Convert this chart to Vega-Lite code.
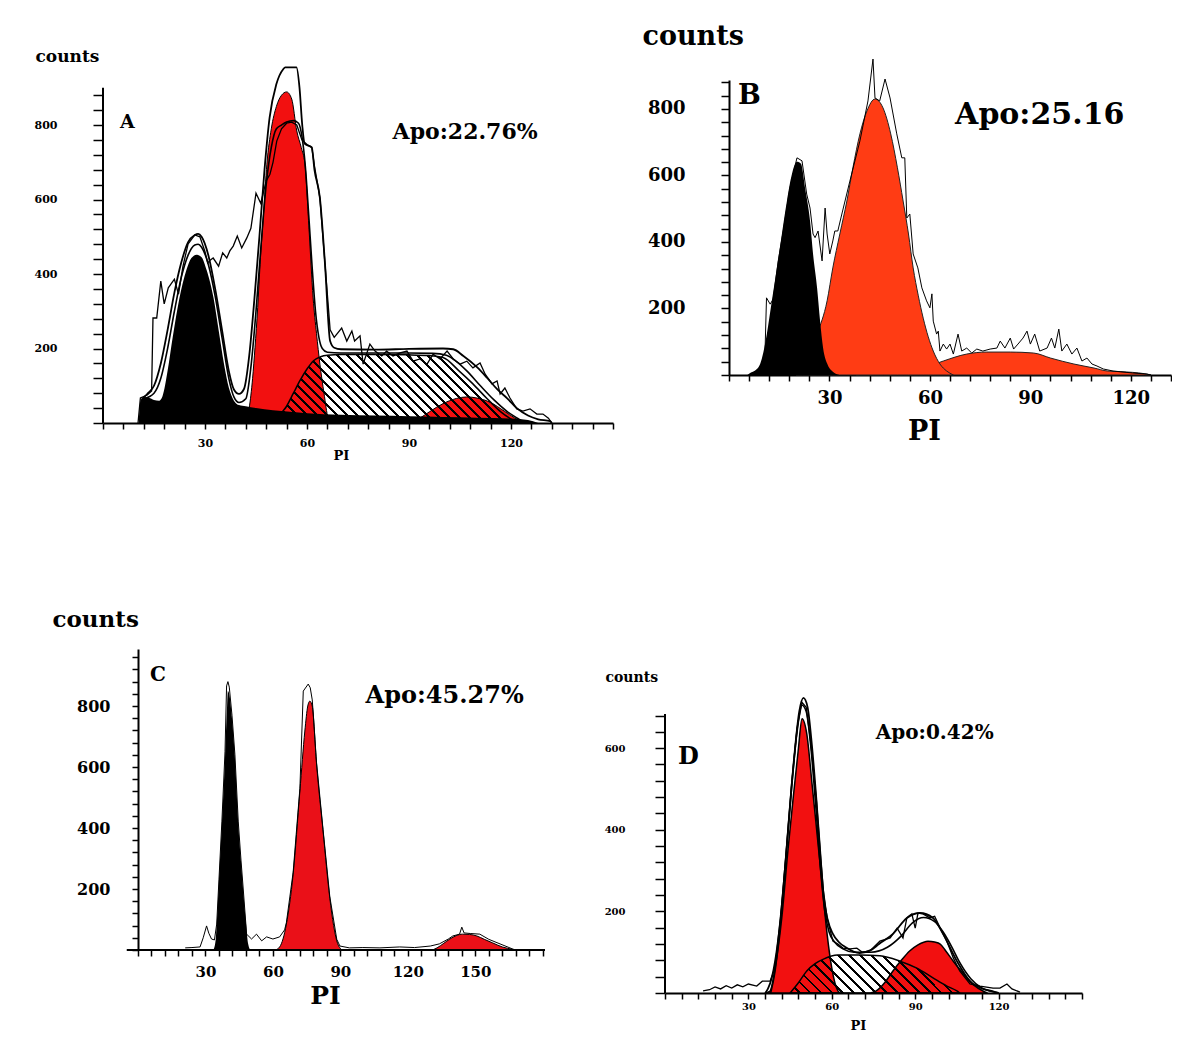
{
"$schema": "https://vega.github.io/schema/vega-lite/v6.json",
"padding": {"left": 34, "top": 22, "right": 0, "bottom": 0},
"spacing": 146,
"config": {
  "font": "DejaVu Serif",
  "view": {"stroke": null},
  "axis": {"grid": false, "labelFont": "DejaVu Serif", "labelFontWeight": "bold", "labelColor": "#000", "titleFont": "DejaVu Serif", "titleFontWeight": "bold", "titleColor": "#000", "domainColor": "#000", "domainWidth": 2, "tickColor": "#000", "tickWidth": 1.5, "labelOverlap": false, "labelFlush": false},
  "text": {"font": "DejaVu Serif", "fontWeight": "bold", "color": "#000"}
},
"vconcat": [
{
 "hconcat": [
 {
  "width": 510, "height": 343,
  "layer": [
  {
   "encoding": {
    "x": {"field": "x", "type": "quantitative", "scale": {"domain": [0, 150], "nice": false, "zero": false},
      "axis": {"values": [0,6,12,18,24,30,36,42,48,54,60,66,72,78,84,90,96,102,108,114,120,126,132,138,144,150], "labelExpr": "datum.value % 30 === 0 && datum.value > 0 && datum.value < 150 ? datum.label : ''", "labelFontSize": 11, "labelPadding": 8, "tickSize": 6, "title": "PI", "titleFontSize": 13, "titleX": 238, "titleY": 36, "titleAlign": "center", "titleBaseline": "alphabetic"}},
    "y": {"field": "y", "type": "quantitative", "scale": {"domain": [0, 921], "nice": false},
      "axis": {"values": [0,40,80,120,160,200,240,280,320,360,400,440,480,520,560,600,640,680,720,760,800,840,880], "labelExpr": "datum.value % 200 === 0 && datum.value > 0 ? datum.label : ''", "labelFontSize": 11, "labelPadding": 36, "tickSize": 10, "domain": false, "title": "counts", "titleFontSize": 17, "titleAngle": 0, "titleAlign": "left", "titleBaseline": "alphabetic", "titleX": -68, "titleY": -19}}
   },
   "layer": [
    {"data": {"values": [{"x":42,"y":0},{"x":43,"y":40},{"x":44,"y":120},{"x":44.7,"y":202},{"x":45.5,"y":310},{"x":46.2,"y":426},{"x":47.2,"y":560},{"x":48.2,"y":695},{"x":49.5,"y":790},{"x":51,"y":850},{"x":52.5,"y":880},{"x":54,"y":889},{"x":55.5,"y":870},{"x":57,"y":784},{"x":58.3,"y":740},{"x":59.4,"y":695},{"x":60.6,"y":520},{"x":61.8,"y":336},{"x":62.8,"y":240},{"x":63.8,"y":158},{"x":65,"y":80},{"x":66.2,"y":13},{"x":67,"y":0}]},
     "mark": {"type": "area", "interpolate": "monotone", "fill": "#f21010", "stroke": "#000", "strokeWidth": 1, "opacity": 1}},
    {"data": {"values": [{"x":90,"y":0},{"x":93,"y":12},{"x":96,"y":30},{"x":100,"y":52},{"x":104,"y":66},{"x":107,"y":70},{"x":110,"y":67},{"x":114,"y":55},{"x":118,"y":32},{"x":121,"y":14},{"x":124,"y":0}]},
     "mark": {"type": "area", "interpolate": "monotone", "fill": "#f21010", "stroke": "#000", "strokeWidth": 1, "opacity": 1}},
    {"data": {"values": [{"x":51,"y":0},{"x":52,"y":20},{"x":54,"y":45},{"x":56,"y":80},{"x":58,"y":115},{"x":60,"y":145},{"x":62,"y":168},{"x":64,"y":178},{"x":66,"y":182},{"x":70,"y":184},{"x":80,"y":184},{"x":90,"y":183},{"x":96,"y":181},{"x":100,"y":176},{"x":104.7,"y":140},{"x":108.8,"y":105},{"x":113,"y":65},{"x":117,"y":30},{"x":121,"y":5},{"x":122,"y":0}]},
     "mark": {"type": "area", "interpolate": "monotone", "stroke": "#000", "strokeWidth": 1.5, "opacity": 1,
       "fill": {"gradient": "linear", "x1": 0, "y1": 1, "x2": 1.188, "y2": 0.6625, "stops": [
        {"offset":0,"color":"rgba(0,0,0,0)"},{"offset":0.0242,"color":"rgba(0,0,0,0)"},{"offset":0.0242,"color":"#000"},{"offset":0.0323,"color":"#000"},
        {"offset":0.0323,"color":"rgba(0,0,0,0)"},{"offset":0.0565,"color":"rgba(0,0,0,0)"},{"offset":0.0565,"color":"#000"},{"offset":0.0645,"color":"#000"},
        {"offset":0.0645,"color":"rgba(0,0,0,0)"},{"offset":0.0887,"color":"rgba(0,0,0,0)"},{"offset":0.0887,"color":"#000"},{"offset":0.0968,"color":"#000"},
        {"offset":0.0968,"color":"rgba(0,0,0,0)"},{"offset":0.1210,"color":"rgba(0,0,0,0)"},{"offset":0.1210,"color":"#000"},{"offset":0.1290,"color":"#000"},
        {"offset":0.1290,"color":"rgba(0,0,0,0)"},{"offset":0.1532,"color":"rgba(0,0,0,0)"},{"offset":0.1532,"color":"#000"},{"offset":0.1613,"color":"#000"},
        {"offset":0.1613,"color":"rgba(0,0,0,0)"},{"offset":0.1855,"color":"rgba(0,0,0,0)"},{"offset":0.1855,"color":"#000"},{"offset":0.1935,"color":"#000"},
        {"offset":0.1935,"color":"rgba(0,0,0,0)"},{"offset":0.2177,"color":"rgba(0,0,0,0)"},{"offset":0.2177,"color":"#000"},{"offset":0.2258,"color":"#000"},
        {"offset":0.2258,"color":"rgba(0,0,0,0)"},{"offset":0.2500,"color":"rgba(0,0,0,0)"},{"offset":0.2500,"color":"#000"},{"offset":0.2581,"color":"#000"},
        {"offset":0.2581,"color":"rgba(0,0,0,0)"},{"offset":0.2823,"color":"rgba(0,0,0,0)"},{"offset":0.2823,"color":"#000"},{"offset":0.2903,"color":"#000"},
        {"offset":0.2903,"color":"rgba(0,0,0,0)"},{"offset":0.3145,"color":"rgba(0,0,0,0)"},{"offset":0.3145,"color":"#000"},{"offset":0.3226,"color":"#000"},
        {"offset":0.3226,"color":"rgba(0,0,0,0)"},{"offset":0.3468,"color":"rgba(0,0,0,0)"},{"offset":0.3468,"color":"#000"},{"offset":0.3548,"color":"#000"},
        {"offset":0.3548,"color":"rgba(0,0,0,0)"},{"offset":0.3790,"color":"rgba(0,0,0,0)"},{"offset":0.3790,"color":"#000"},{"offset":0.3871,"color":"#000"},
        {"offset":0.3871,"color":"rgba(0,0,0,0)"},{"offset":0.4113,"color":"rgba(0,0,0,0)"},{"offset":0.4113,"color":"#000"},{"offset":0.4194,"color":"#000"},
        {"offset":0.4194,"color":"rgba(0,0,0,0)"},{"offset":0.4435,"color":"rgba(0,0,0,0)"},{"offset":0.4435,"color":"#000"},{"offset":0.4516,"color":"#000"},
        {"offset":0.4516,"color":"rgba(0,0,0,0)"},{"offset":0.4758,"color":"rgba(0,0,0,0)"},{"offset":0.4758,"color":"#000"},{"offset":0.4839,"color":"#000"},
        {"offset":0.4839,"color":"rgba(0,0,0,0)"},{"offset":0.5081,"color":"rgba(0,0,0,0)"},{"offset":0.5081,"color":"#000"},{"offset":0.5161,"color":"#000"},
        {"offset":0.5161,"color":"rgba(0,0,0,0)"},{"offset":0.5403,"color":"rgba(0,0,0,0)"},{"offset":0.5403,"color":"#000"},{"offset":0.5484,"color":"#000"},
        {"offset":0.5484,"color":"rgba(0,0,0,0)"},{"offset":0.5726,"color":"rgba(0,0,0,0)"},{"offset":0.5726,"color":"#000"},{"offset":0.5806,"color":"#000"},
        {"offset":0.5806,"color":"rgba(0,0,0,0)"},{"offset":0.6048,"color":"rgba(0,0,0,0)"},{"offset":0.6048,"color":"#000"},{"offset":0.6129,"color":"#000"},
        {"offset":0.6129,"color":"rgba(0,0,0,0)"},{"offset":0.6371,"color":"rgba(0,0,0,0)"},{"offset":0.6371,"color":"#000"},{"offset":0.6452,"color":"#000"},
        {"offset":0.6452,"color":"rgba(0,0,0,0)"},{"offset":0.6694,"color":"rgba(0,0,0,0)"},{"offset":0.6694,"color":"#000"},{"offset":0.6774,"color":"#000"},
        {"offset":0.6774,"color":"rgba(0,0,0,0)"},{"offset":0.7016,"color":"rgba(0,0,0,0)"},{"offset":0.7016,"color":"#000"},{"offset":0.7097,"color":"#000"},
        {"offset":0.7097,"color":"rgba(0,0,0,0)"},{"offset":0.7339,"color":"rgba(0,0,0,0)"},{"offset":0.7339,"color":"#000"},{"offset":0.7419,"color":"#000"},
        {"offset":0.7419,"color":"rgba(0,0,0,0)"},{"offset":0.7661,"color":"rgba(0,0,0,0)"},{"offset":0.7661,"color":"#000"},{"offset":0.7742,"color":"#000"},
        {"offset":0.7742,"color":"rgba(0,0,0,0)"},{"offset":0.7984,"color":"rgba(0,0,0,0)"},{"offset":0.7984,"color":"#000"},{"offset":0.8065,"color":"#000"},
        {"offset":0.8065,"color":"rgba(0,0,0,0)"},{"offset":0.8306,"color":"rgba(0,0,0,0)"},{"offset":0.8306,"color":"#000"},{"offset":0.8387,"color":"#000"},
        {"offset":0.8387,"color":"rgba(0,0,0,0)"},{"offset":0.8629,"color":"rgba(0,0,0,0)"},{"offset":0.8629,"color":"#000"},{"offset":0.8710,"color":"#000"},
        {"offset":0.8710,"color":"rgba(0,0,0,0)"},{"offset":0.8952,"color":"rgba(0,0,0,0)"},{"offset":0.8952,"color":"#000"},{"offset":0.9032,"color":"#000"},
        {"offset":0.9032,"color":"rgba(0,0,0,0)"},{"offset":0.9274,"color":"rgba(0,0,0,0)"},{"offset":0.9274,"color":"#000"},{"offset":0.9355,"color":"#000"},
        {"offset":0.9355,"color":"rgba(0,0,0,0)"},{"offset":0.9597,"color":"rgba(0,0,0,0)"},{"offset":0.9597,"color":"#000"},{"offset":0.9677,"color":"#000"},
        {"offset":0.9677,"color":"rgba(0,0,0,0)"},{"offset":0.9919,"color":"rgba(0,0,0,0)"},{"offset":0.9919,"color":"#000"},{"offset":1,"color":"#000"}]}}},
    {"data": {"values": [{"x":10.5,"y":0},{"x":11,"y":60},{"x":12,"y":70},{"x":13.5,"y":68},{"x":15,"y":62},{"x":16.5,"y":60},{"x":17.5,"y":72},{"x":19,"y":140},{"x":20.5,"y":230},{"x":22.5,"y":336},{"x":24.5,"y":410},{"x":26,"y":443},{"x":27.6,"y":452},{"x":29,"y":445},{"x":30.5,"y":410},{"x":32.5,"y":336},{"x":34,"y":250},{"x":35.6,"y":158},{"x":37,"y":95},{"x":38.5,"y":60},{"x":40,"y":48},{"x":42,"y":45},{"x":45,"y":40},{"x":50,"y":34},{"x":55,"y":30},{"x":60,"y":26},{"x":70,"y":22},{"x":80,"y":20},{"x":90,"y":18},{"x":100,"y":16},{"x":110,"y":14},{"x":120,"y":12},{"x":125,"y":8},{"x":128,"y":0}]},
     "mark": {"type": "area", "interpolate": "monotone", "fill": "#000", "opacity": 1}},
    {"data": {"values": [{"x":11,"y":0},{"x":11.5,"y":60},{"x":13,"y":78},{"x":15,"y":100},{"x":17,"y":160},{"x":19,"y":250},{"x":21,"y":350},{"x":23,"y":430},{"x":25,"y":485},{"x":27,"y":505},{"x":28,"y":508},{"x":29,"y":500},{"x":31,"y":450},{"x":33,"y":360},{"x":35,"y":250},{"x":37,"y":140},{"x":38.5,"y":90},{"x":40,"y":78},{"x":41.5,"y":92},{"x":43,"y":180},{"x":44.5,"y":330},{"x":46,"y":500},{"x":47.5,"y":680},{"x":49,"y":820},{"x":51,"y":910},{"x":53,"y":950},{"x":53.6,"y":955},{"x":56.9,"y":955},{"x":57.8,"y":900},{"x":58.6,"y":800},{"x":59.3,"y":750},{"x":61.4,"y":740},{"x":62.2,"y":680},{"x":63.8,"y":604},{"x":65.3,"y":426},{"x":66.8,"y":220},{"x":68,"y":202},{"x":70,"y":198},{"x":80,"y":197},{"x":90,"y":199},{"x":100,"y":200},{"x":103,"y":198},{"x":106,"y":180},{"x":110,"y":150},{"x":113,"y":121},{"x":116,"y":90},{"x":118.8,"y":67},{"x":121.7,"y":40},{"x":125,"y":20},{"x":128,"y":10},{"x":131.5,"y":5},{"x":132,"y":0}]},
     "mark": {"type": "line", "interpolate": "monotone", "color": "#000", "strokeWidth": 1.8}},
    {"data": {"values": [{"x":12,"y":65},{"x":15,"y":80},{"x":17,"y":120},{"x":19,"y":200},{"x":21,"y":300},{"x":23,"y":390},{"x":25,"y":450},{"x":27,"y":478},{"x":28,"y":480},{"x":29,"y":472},{"x":31,"y":425},{"x":33,"y":340},{"x":35,"y":230},{"x":37,"y":120},{"x":38.5,"y":70},{"x":40,"y":55},{"x":42,"y":65},{"x":43.5,"y":150},{"x":45,"y":300},{"x":46.5,"y":480},{"x":48,"y":640},{"x":49.5,"y":740},{"x":51,"y":790},{"x":52.5,"y":800},{"x":54,"y":808},{"x":56,"y":812},{"x":57.5,"y":805},{"x":58.5,"y":770},{"x":59.5,"y":690},{"x":60.5,"y":560},{"x":61.5,"y":420},{"x":62.5,"y":300},{"x":63.5,"y":230},{"x":64.5,"y":200},{"x":66,"y":190},{"x":70,"y":188},{"x":80,"y":188},{"x":90,"y":188},{"x":97,"y":187},{"x":101,"y":182},{"x":104,"y":165},{"x":107,"y":140},{"x":111,"y":100},{"x":115,"y":62},{"x":119,"y":30},{"x":122,"y":12},{"x":124,"y":0}]},
     "mark": {"type": "line", "interpolate": "monotone", "color": "#000", "strokeWidth": 1.6}},
    {"data": {"values": [{"x":10.3,"y":0},{"x":11,"y":67},{"x":13,"y":75},{"x":14.3,"y":86},{"x":14.7,"y":282},{"x":15.8,"y":282},{"x":17,"y":381},{"x":18,"y":320},{"x":19.2,"y":363},{"x":21,"y":386},{"x":22.2,"y":346},{"x":23.5,"y":420},{"x":25,"y":480},{"x":27,"y":505},{"x":28.5,"y":500},{"x":30,"y":460},{"x":30.8,"y":430},{"x":31.6,"y":438},{"x":32.4,"y":443},{"x":34,"y":421},{"x":35.2,"y":457},{"x":36.4,"y":443},{"x":37.3,"y":462},{"x":38.3,"y":475},{"x":39.5,"y":502},{"x":40.8,"y":470},{"x":42.3,"y":497},{"x":43.5,"y":523},{"x":45,"y":617},{"x":46.4,"y":590},{"x":48,"y":650},{"x":49.1,"y":668},{"x":50,"y":700},{"x":51.1,"y":757},{"x":52.5,"y":790},{"x":54,"y":805},{"x":55.5,"y":808},{"x":57,"y":800},{"x":58.5,"y":760},{"x":60,"y":748},{"x":61.4,"y":740},{"x":62.2,"y":690},{"x":63.8,"y":604},{"x":65.3,"y":426},{"x":66.8,"y":250},{"x":68,"y":230},{"x":70.2,"y":255},{"x":71.7,"y":220},{"x":73.2,"y":247},{"x":74,"y":220},{"x":75.6,"y":234},{"x":76.5,"y":158},{"x":78.5,"y":212},{"x":80,"y":193},{"x":82,"y":180},{"x":83.4,"y":193},{"x":85.3,"y":180},{"x":87.4,"y":188},{"x":89.4,"y":193},{"x":91.2,"y":166},{"x":93.2,"y":172},{"x":95.3,"y":158},{"x":97.1,"y":185},{"x":99.1,"y":172},{"x":101.2,"y":193},{"x":103,"y":172},{"x":105,"y":158},{"x":107,"y":166},{"x":108.8,"y":148},{"x":110.9,"y":161},{"x":112.4,"y":131},{"x":114.4,"y":105},{"x":115.9,"y":113},{"x":116.8,"y":78},{"x":118.2,"y":94},{"x":119.7,"y":67},{"x":121.7,"y":38},{"x":123.5,"y":32},{"x":125.6,"y":38},{"x":127.6,"y":24},{"x":129.4,"y":24},{"x":131,"y":13},{"x":132,"y":0}]},
     "mark": {"type": "line", "interpolate": "linear", "color": "#000", "strokeWidth": 1.3}}
   ]
  },
  {"data": {"values": [{}]}, "mark": {"type": "rule", "color": "#000", "strokeWidth": 2},
   "encoding": {
    "x": {"datum": 0, "type": "quantitative", "scale": {"domain": [0, 150], "nice": false, "zero": false},
      "axis": {"values": [0,6,12,18,24,30,36,42,48,54,60,66,72,78,84,90,96,102,108,114,120,126,132,138,144,150], "labelExpr": "datum.value % 30 === 0 && datum.value > 0 && datum.value < 150 ? datum.label : ''", "labelFontSize": 11, "labelPadding": 8, "tickSize": 6, "title": "PI", "titleFontSize": 13, "titleX": 238, "titleY": 36, "titleAlign": "center", "titleBaseline": "alphabetic"}},
    "y": {"datum": 0, "type": "quantitative", "scale": {"domain": [0, 921], "nice": false},
      "axis": {"values": [0,40,80,120,160,200,240,280,320,360,400,440,480,520,560,600,640,680,720,760,800,840,880], "labelExpr": "datum.value % 200 === 0 && datum.value > 0 ? datum.label : ''", "labelFontSize": 11, "labelPadding": 36, "tickSize": 10, "domain": false, "title": "counts", "titleFontSize": 17, "titleAngle": 0, "titleAlign": "left", "titleBaseline": "alphabetic", "titleX": -68, "titleY": -19}},
    "y2": {"datum": 900}}},
  {"data": {"values": [{}]}, "mark": {"type": "text", "text": "A", "align": "left", "baseline": "alphabetic", "fontSize": 19},
   "encoding": {
    "x": {"datum": 5, "type": "quantitative", "scale": {"domain": [0, 150], "nice": false, "zero": false},
      "axis": {"values": [0,6,12,18,24,30,36,42,48,54,60,66,72,78,84,90,96,102,108,114,120,126,132,138,144,150], "labelExpr": "datum.value % 30 === 0 && datum.value > 0 && datum.value < 150 ? datum.label : ''", "labelFontSize": 11, "labelPadding": 8, "tickSize": 6, "title": "PI", "titleFontSize": 13, "titleX": 238, "titleY": 36, "titleAlign": "center", "titleBaseline": "alphabetic"}},
    "y": {"datum": 792, "type": "quantitative", "scale": {"domain": [0, 921], "nice": false},
      "axis": {"values": [0,40,80,120,160,200,240,280,320,360,400,440,480,520,560,600,640,680,720,760,800,840,880], "labelExpr": "datum.value % 200 === 0 && datum.value > 0 ? datum.label : ''", "labelFontSize": 11, "labelPadding": 36, "tickSize": 10, "domain": false, "title": "counts", "titleFontSize": 17, "titleAngle": 0, "titleAlign": "left", "titleBaseline": "alphabetic", "titleX": -68, "titleY": -19}}}},
  {"data": {"values": [{}]}, "mark": {"type": "text", "text": "Apo:22.76%", "align": "center", "baseline": "alphabetic", "fontSize": 22},
   "encoding": {
    "x": {"datum": 106.5, "type": "quantitative", "scale": {"domain": [0, 150], "nice": false, "zero": false},
      "axis": {"values": [0,6,12,18,24,30,36,42,48,54,60,66,72,78,84,90,96,102,108,114,120,126,132,138,144,150], "labelExpr": "datum.value % 30 === 0 && datum.value > 0 && datum.value < 150 ? datum.label : ''", "labelFontSize": 11, "labelPadding": 8, "tickSize": 6, "title": "PI", "titleFontSize": 13, "titleX": 238, "titleY": 36, "titleAlign": "center", "titleBaseline": "alphabetic"}},
    "y": {"datum": 762, "type": "quantitative", "scale": {"domain": [0, 921], "nice": false},
      "axis": {"values": [0,40,80,120,160,200,240,280,320,360,400,440,480,520,560,600,640,680,720,760,800,840,880], "labelExpr": "datum.value % 200 === 0 && datum.value > 0 ? datum.label : ''", "labelFontSize": 11, "labelPadding": 36, "tickSize": 10, "domain": false, "title": "counts", "titleFontSize": 17, "titleAngle": 0, "titleAlign": "left", "titleBaseline": "alphabetic", "titleX": -68, "titleY": -19}}}}
  ]
 },
 {
  "width": 442, "height": 295,
  "layer": [
  {
   "encoding": {
    "x": {"field": "x", "type": "quantitative", "scale": {"domain": [0, 132], "nice": false, "zero": false},
      "axis": {"values": [0,6,12,18,24,30,36,42,48,54,60,66,72,78,84,90,96,102,108,114,120,126,132], "labelExpr": "datum.value % 30 === 0 && datum.value > 0 ? datum.label : ''", "labelFontSize": 18, "labelPadding": 8, "tickSize": 6, "title": "PI", "titleFontSize": 27, "titleX": 195, "titleY": 64, "titleAlign": "center", "titleBaseline": "alphabetic"}},
    "y": {"field": "y", "type": "quantitative", "scale": {"domain": [0, 887], "nice": false},
      "axis": {"values": [0,40,80,120,160,200,240,280,320,360,400,440,480,520,560,600,640,680,720,760,800,840,880], "labelExpr": "datum.value % 200 === 0 && datum.value > 0 ? datum.label : ''", "labelFontSize": 18, "labelPadding": 36, "tickSize": 8, "title": "counts", "titleFontSize": 27, "titleAngle": 0, "titleAlign": "left", "titleBaseline": "alphabetic", "titleX": -87, "titleY": -36}}
   },
   "layer": [
    {"data": {"values": [{"x":38,"y":0},{"x":45,"y":8},{"x":55,"y":18},{"x":62,"y":35},{"x":64,"y":42},{"x":71,"y":63},{"x":77,"y":69},{"x":84,"y":69},{"x":91,"y":66},{"x":96,"y":51},{"x":103,"y":33},{"x":109,"y":21},{"x":113,"y":12},{"x":117,"y":10},{"x":124,"y":4},{"x":126,"y":0}]},
     "mark": {"type": "area", "interpolate": "monotone", "fill": "#ff3c14", "stroke": "#222", "strokeWidth": 1, "opacity": 1}},
    {"data": {"values": [{"x":20,"y":0},{"x":22,"y":21},{"x":24,"y":60},{"x":26.3,"y":123},{"x":29.3,"y":223},{"x":31,"y":322},{"x":33.1,"y":424},{"x":35.2,"y":523},{"x":37,"y":623},{"x":39.1,"y":725},{"x":41.2,"y":794},{"x":43.6,"y":830},{"x":46,"y":803},{"x":48.3,"y":725},{"x":50.3,"y":623},{"x":52,"y":523},{"x":53.6,"y":424},{"x":55,"y":322},{"x":56.5,"y":240},{"x":58,"y":171},{"x":59.5,"y":115},{"x":61,"y":72},{"x":63,"y":33},{"x":65,"y":12},{"x":67,"y":0}]},
     "mark": {"type": "area", "interpolate": "monotone", "fill": "#ff3c14", "stroke": "#222", "strokeWidth": 1, "opacity": 1}},
    {"data": {"values": [{"x":5.5,"y":0},{"x":6.3,"y":6},{"x":8,"y":15},{"x":9.3,"y":33},{"x":10.3,"y":70},{"x":11.3,"y":123},{"x":12.8,"y":223},{"x":14.3,"y":322},{"x":15.8,"y":424},{"x":17.3,"y":523},{"x":18.8,"y":604},{"x":20.3,"y":641},{"x":21.5,"y":635},{"x":22.7,"y":563},{"x":24.2,"y":463},{"x":25.1,"y":364},{"x":26.3,"y":262},{"x":27.2,"y":162},{"x":28.1,"y":81},{"x":29.5,"y":30},{"x":31,"y":10},{"x":33,"y":0}]},
     "mark": {"type": "area", "interpolate": "monotone", "fill": "#000", "opacity": 1}},
    {"data": {"values": [{"x":10,"y":0},{"x":10.6,"y":12},{"x":11.2,"y":232},{"x":12.3,"y":213},{"x":13.2,"y":228},{"x":14.7,"y":343},{"x":16.2,"y":433},{"x":18.2,"y":563},{"x":20.3,"y":653},{"x":21.8,"y":644},{"x":23.2,"y":544},{"x":24.2,"y":502},{"x":25.1,"y":424},{"x":25.7,"y":413},{"x":26.6,"y":433},{"x":27.8,"y":343},{"x":28.7,"y":502},{"x":29.3,"y":424},{"x":30.1,"y":364},{"x":31,"y":403},{"x":31.6,"y":433},{"x":32.5,"y":433},{"x":33.7,"y":484},{"x":36.1,"y":583},{"x":39.1,"y":704},{"x":41.5,"y":824},{"x":43,"y":950},{"x":43.6,"y":833},{"x":45,"y":824},{"x":46.6,"y":890},{"x":48.1,"y":833},{"x":50.1,"y":725},{"x":51.6,"y":653},{"x":52.5,"y":653},{"x":53.1,"y":472},{"x":54,"y":484},{"x":55,"y":364},{"x":56.4,"y":322},{"x":57.6,"y":262},{"x":59,"y":223},{"x":60,"y":202},{"x":60.6,"y":244},{"x":61,"y":162},{"x":62,"y":123},{"x":62.5,"y":132},{"x":63,"y":72},{"x":64,"y":93},{"x":65,"y":78},{"x":66,"y":93},{"x":67,"y":63},{"x":68.4,"y":123},{"x":69.5,"y":72},{"x":71,"y":81},{"x":72.5,"y":66},{"x":74,"y":78},{"x":75.8,"y":72},{"x":78,"y":78},{"x":80,"y":81},{"x":81,"y":102},{"x":82.4,"y":81},{"x":84,"y":111},{"x":85,"y":78},{"x":86.3,"y":93},{"x":87.8,"y":111},{"x":89,"y":132},{"x":90,"y":93},{"x":91.3,"y":123},{"x":92.8,"y":72},{"x":95,"y":81},{"x":96.3,"y":111},{"x":97.3,"y":81},{"x":98.5,"y":138},{"x":99.4,"y":72},{"x":100.9,"y":93},{"x":102.4,"y":63},{"x":103.9,"y":81},{"x":105.4,"y":42},{"x":106.9,"y":51},{"x":108.4,"y":33},{"x":109.9,"y":27},{"x":111.8,"y":18},{"x":114.7,"y":12},{"x":120.6,"y":6},{"x":124.8,"y":3},{"x":126,"y":0}]},
     "mark": {"type": "line", "interpolate": "linear", "color": "#000", "strokeWidth": 1}}
   ]
  },
  {"data": {"values": [{}]}, "mark": {"type": "text", "text": "B", "align": "left", "baseline": "alphabetic", "fontSize": 27},
   "encoding": {
    "x": {"datum": 2.7, "type": "quantitative", "scale": {"domain": [0, 132], "nice": false, "zero": false},
      "axis": {"values": [0,6,12,18,24,30,36,42,48,54,60,66,72,78,84,90,96,102,108,114,120,126,132], "labelExpr": "datum.value % 30 === 0 && datum.value > 0 ? datum.label : ''", "labelFontSize": 18, "labelPadding": 8, "tickSize": 6, "title": "PI", "titleFontSize": 27, "titleX": 195, "titleY": 64, "titleAlign": "center", "titleBaseline": "alphabetic"}},
    "y": {"datum": 815, "type": "quantitative", "scale": {"domain": [0, 887], "nice": false},
      "axis": {"values": [0,40,80,120,160,200,240,280,320,360,400,440,480,520,560,600,640,680,720,760,800,840,880], "labelExpr": "datum.value % 200 === 0 && datum.value > 0 ? datum.label : ''", "labelFontSize": 18, "labelPadding": 36, "tickSize": 8, "title": "counts", "titleFontSize": 27, "titleAngle": 0, "titleAlign": "left", "titleBaseline": "alphabetic", "titleX": -87, "titleY": -36}}}},
  {"data": {"values": [{}]}, "mark": {"type": "text", "text": "Apo:25.16", "align": "center", "baseline": "alphabetic", "fontSize": 30},
   "encoding": {
    "x": {"datum": 92.8, "type": "quantitative", "scale": {"domain": [0, 132], "nice": false, "zero": false},
      "axis": {"values": [0,6,12,18,24,30,36,42,48,54,60,66,72,78,84,90,96,102,108,114,120,126,132], "labelExpr": "datum.value % 30 === 0 && datum.value > 0 ? datum.label : ''", "labelFontSize": 18, "labelPadding": 8, "tickSize": 6, "title": "PI", "titleFontSize": 27, "titleX": 195, "titleY": 64, "titleAlign": "center", "titleBaseline": "alphabetic"}},
    "y": {"datum": 755, "type": "quantitative", "scale": {"domain": [0, 887], "nice": false},
      "axis": {"values": [0,40,80,120,160,200,240,280,320,360,400,440,480,520,560,600,640,680,720,760,800,840,880], "labelExpr": "datum.value % 200 === 0 && datum.value > 0 ? datum.label : ''", "labelFontSize": 18, "labelPadding": 36, "tickSize": 8, "title": "counts", "titleFontSize": 27, "titleAngle": 0, "titleAlign": "left", "titleBaseline": "alphabetic", "titleX": -87, "titleY": -36}}}}
  ]
 }
 ],
 "bounds": "flush",
 "spacing": 116
},
{
 "hconcat": [
 {
  "width": 442, "height": 301,
  "layer": [
  {
   "encoding": {
    "x": {"field": "x", "type": "quantitative", "scale": {"domain": [-15.56, 181], "nice": false, "zero": false},
      "axis": {"values": [0,6,12,18,24,30,36,42,48,54,60,66,72,78,84,90,96,102,108,114,120,126,132,138,144,150,156,162,168,174,180], "labelExpr": "datum.value % 30 === 0 && datum.value > 0 && datum.value < 160 ? datum.label : ''", "labelFontSize": 15, "labelPadding": 8, "tickSize": 6, "domain": false, "title": "PI", "titleFontSize": 25, "titleX": 222, "titleY": 53, "titleAlign": "center", "titleBaseline": "alphabetic"}},
    "y": {"field": "y", "type": "quantitative", "scale": {"domain": [0, 987], "nice": false},
      "axis": {"values": [0,40,80,120,160,200,240,280,320,360,400,440,480,520,560,600,640,680,720,760,800,840,880,920,960], "labelExpr": "datum.value % 200 === 0 && datum.value > 0 ? datum.label : ''", "labelFontSize": 16, "labelPadding": 22, "tickSize": 6, "offset": -35, "title": "counts", "titleFontSize": 23, "titleAngle": 0, "titleAlign": "left", "titleBaseline": "alphabetic", "titleX": -86, "titleY": -23}}
   },
   "layer": [
    {"data": {"values": [{"x":61,"y":0},{"x":63,"y":10},{"x":66,"y":85},{"x":69,"y":249},{"x":72,"y":521},{"x":74.2,"y":718},{"x":75.5,"y":800},{"x":76.4,"y":816},{"x":77.5,"y":800},{"x":79.4,"y":610},{"x":82.3,"y":390},{"x":85.3,"y":170},{"x":87,"y":80},{"x":88.4,"y":30},{"x":90,"y":5},{"x":91,"y":0}]},
     "mark": {"type": "area", "interpolate": "monotone", "fill": "#ea1018", "stroke": "#000", "strokeWidth": 1, "opacity": 1}},
    {"data": {"values": [{"x":131,"y":0},{"x":133,"y":7},{"x":136,"y":22},{"x":138.7,"y":36},{"x":141.5,"y":47},{"x":144.4,"y":52},{"x":147.5,"y":51},{"x":150.7,"y":46},{"x":154,"y":35},{"x":157.8,"y":23},{"x":162,"y":10},{"x":166.7,"y":2},{"x":168,"y":0}]},
     "mark": {"type": "area", "interpolate": "monotone", "fill": "#ea1018", "stroke": "#000", "strokeWidth": 1, "opacity": 1}},
    {"data": {"values": [{"x":33.5,"y":0},{"x":34.5,"y":30},{"x":35,"y":85},{"x":36,"y":230},{"x":37.3,"y":413},{"x":38.7,"y":630},{"x":39.5,"y":780},{"x":40,"y":849},{"x":40.8,"y":830},{"x":41.8,"y":760},{"x":43.1,"y":630},{"x":44.6,"y":413},{"x":45.8,"y":290},{"x":46.8,"y":193},{"x":48,"y":90},{"x":49,"y":20},{"x":50,"y":0}]},
     "mark": {"type": "area", "interpolate": "monotone", "fill": "#000", "opacity": 1}},
    {"data": {"values": [{"x":21,"y":7},{"x":24,"y":8},{"x":27.6,"y":10},{"x":29,"y":40},{"x":30.5,"y":79},{"x":31.5,"y":55},{"x":32.7,"y":36},{"x":34,"y":33},{"x":35,"y":85},{"x":36,"y":230},{"x":37.3,"y":420},{"x":38.7,"y":650},{"x":39.4,"y":866},{"x":40,"y":880},{"x":40.6,"y":862},{"x":41.8,"y":770},{"x":43.1,"y":640},{"x":44.6,"y":420},{"x":45.8,"y":295},{"x":46.8,"y":200},{"x":48.3,"y":52},{"x":50.5,"y":36},{"x":52.7,"y":52},{"x":55,"y":30},{"x":57.2,"y":43},{"x":60,"y":36},{"x":63,"y":43},{"x":65.2,"y":66},{"x":66,"y":90},{"x":69,"y":255},{"x":72,"y":530},{"x":73.5,"y":849},{"x":75.7,"y":872},{"x":76.6,"y":860},{"x":77.5,"y":820},{"x":79.4,"y":615},{"x":82.3,"y":395},{"x":85.3,"y":175},{"x":88.4,"y":35},{"x":89.8,"y":13},{"x":94,"y":7},{"x":100,"y":8},{"x":107.6,"y":7},{"x":116.4,"y":10},{"x":123,"y":8},{"x":130,"y":13},{"x":134,"y":20},{"x":138,"y":36},{"x":140,"y":46},{"x":143,"y":52},{"x":144,"y":75},{"x":145,"y":56},{"x":148,"y":54},{"x":152,"y":52},{"x":156,"y":35},{"x":161,"y":20},{"x":166.7,"y":3},{"x":168,"y":0}]},
     "mark": {"type": "line", "interpolate": "linear", "color": "#000", "strokeWidth": 1}}
   ]
  },
  {"data": {"values": [{}]}, "mark": {"type": "rule", "color": "#000", "strokeWidth": 2},
   "encoding": {
    "x": {"datum": -5, "type": "quantitative", "scale": {"domain": [-15.56, 181], "nice": false, "zero": false},
      "axis": {"values": [0,6,12,18,24,30,36,42,48,54,60,66,72,78,84,90,96,102,108,114,120,126,132,138,144,150,156,162,168,174,180], "labelExpr": "datum.value % 30 === 0 && datum.value > 0 && datum.value < 160 ? datum.label : ''", "labelFontSize": 15, "labelPadding": 8, "tickSize": 6, "domain": false, "title": "PI", "titleFontSize": 25, "titleX": 222, "titleY": 53, "titleAlign": "center", "titleBaseline": "alphabetic"}},
    "x2": {"datum": 181},
    "y": {"datum": 0, "type": "quantitative", "scale": {"domain": [0, 987], "nice": false},
      "axis": {"values": [0,40,80,120,160,200,240,280,320,360,400,440,480,520,560,600,640,680,720,760,800,840,880,920,960], "labelExpr": "datum.value % 200 === 0 && datum.value > 0 ? datum.label : ''", "labelFontSize": 16, "labelPadding": 22, "tickSize": 6, "offset": -35, "title": "counts", "titleFontSize": 23, "titleAngle": 0, "titleAlign": "left", "titleBaseline": "alphabetic", "titleX": -86, "titleY": -23}}}},
  {"data": {"values": [{}]}, "mark": {"type": "text", "text": "C", "align": "left", "baseline": "alphabetic", "fontSize": 20},
   "encoding": {
    "x": {"datum": 5.3, "type": "quantitative", "scale": {"domain": [-15.56, 181], "nice": false, "zero": false},
      "axis": {"values": [0,6,12,18,24,30,36,42,48,54,60,66,72,78,84,90,96,102,108,114,120,126,132,138,144,150,156,162,168,174,180], "labelExpr": "datum.value % 30 === 0 && datum.value > 0 && datum.value < 160 ? datum.label : ''", "labelFontSize": 15, "labelPadding": 8, "tickSize": 6, "domain": false, "title": "PI", "titleFontSize": 25, "titleX": 222, "titleY": 53, "titleAlign": "center", "titleBaseline": "alphabetic"}},
    "y": {"datum": 882, "type": "quantitative", "scale": {"domain": [0, 987], "nice": false},
      "axis": {"values": [0,40,80,120,160,200,240,280,320,360,400,440,480,520,560,600,640,680,720,760,800,840,880,920,960], "labelExpr": "datum.value % 200 === 0 && datum.value > 0 ? datum.label : ''", "labelFontSize": 16, "labelPadding": 22, "tickSize": 6, "offset": -35, "title": "counts", "titleFontSize": 23, "titleAngle": 0, "titleAlign": "left", "titleBaseline": "alphabetic", "titleX": -86, "titleY": -23}}}},
  {"data": {"values": [{}]}, "mark": {"type": "text", "text": "Apo:45.27%", "align": "center", "baseline": "alphabetic", "fontSize": 24},
   "encoding": {
    "x": {"datum": 136.4, "type": "quantitative", "scale": {"domain": [-15.56, 181], "nice": false, "zero": false},
      "axis": {"values": [0,6,12,18,24,30,36,42,48,54,60,66,72,78,84,90,96,102,108,114,120,126,132,138,144,150,156,162,168,174,180], "labelExpr": "datum.value % 30 === 0 && datum.value > 0 && datum.value < 160 ? datum.label : ''", "labelFontSize": 15, "labelPadding": 8, "tickSize": 6, "domain": false, "title": "PI", "titleFontSize": 25, "titleX": 222, "titleY": 53, "titleAlign": "center", "titleBaseline": "alphabetic"}},
    "y": {"datum": 810, "type": "quantitative", "scale": {"domain": [0, 987], "nice": false},
      "axis": {"values": [0,40,80,120,160,200,240,280,320,360,400,440,480,520,560,600,640,680,720,760,800,840,880,920,960], "labelExpr": "datum.value % 200 === 0 && datum.value > 0 ? datum.label : ''", "labelFontSize": 16, "labelPadding": 22, "tickSize": 6, "offset": -35, "title": "counts", "titleFontSize": 23, "titleAngle": 0, "titleAlign": "left", "titleBaseline": "alphabetic", "titleX": -86, "titleY": -23}}}}
  ]
 },
 {
  "width": 417, "height": 344,
  "layer": [
  {
   "encoding": {
    "x": {"field": "x", "type": "quantitative", "scale": {"domain": [0, 150], "nice": false, "zero": false},
      "axis": {"values": [0,6,12,18,24,30,36,42,48,54,60,66,72,78,84,90,96,102,108,114,120,126,132,138,144,150], "labelExpr": "datum.value % 30 === 0 && datum.value > 0 && datum.value < 150 ? datum.label : ''", "labelFontSize": 10, "labelPadding": 2, "tickSize": 6, "title": "PI", "titleFontSize": 13, "titleX": 193, "titleY": 36, "titleAlign": "center", "titleBaseline": "alphabetic"}},
    "y": {"field": "y", "type": "quantitative", "scale": {"domain": [0, 843], "nice": false},
      "axis": {"values": [0,40,80,120,160,200,240,280,320,360,400,440,480,520,560,600,640,680], "labelExpr": "datum.value % 200 === 0 && datum.value > 0 ? datum.label : ''", "labelFontSize": 10, "labelPadding": 30, "tickSize": 10, "domain": false, "title": "counts", "titleFontSize": 14, "titleAngle": 0, "titleAlign": "left", "titleBaseline": "alphabetic", "titleX": -60, "titleY": 32}}
   },
   "layer": [
    {"data": {"values": [{"x":36,"y":0},{"x":37.8,"y":5},{"x":39.6,"y":61},{"x":42,"y":184},{"x":44.2,"y":348},{"x":46,"y":471},{"x":47.9,"y":593},{"x":49.3,"y":672},{"x":51,"y":635},{"x":52.9,"y":512},{"x":54.7,"y":390},{"x":56.5,"y":267},{"x":58.3,"y":145},{"x":60,"y":61},{"x":62.2,"y":5},{"x":63,"y":0}]},
     "mark": {"type": "area", "interpolate": "monotone", "fill": "#f21010", "stroke": "#000", "strokeWidth": 1.5, "opacity": 1}},
    {"data": {"values": [{"x":74,"y":0},{"x":76,"y":5},{"x":79,"y":25},{"x":82,"y":54},{"x":85,"y":80},{"x":88,"y":103},{"x":91,"y":118},{"x":94.6,"y":127},{"x":97,"y":125},{"x":99,"y":120},{"x":101,"y":103},{"x":103.7,"y":78},{"x":106,"y":58},{"x":108.6,"y":37},{"x":111,"y":20},{"x":114.4,"y":5},{"x":116,"y":0}]},
     "mark": {"type": "area", "interpolate": "monotone", "fill": "#f21010", "stroke": "#000", "strokeWidth": 1.5, "opacity": 1}},
    {"data": {"values": [{"x":45,"y":0},{"x":48,"y":25},{"x":51,"y":54},{"x":54,"y":72},{"x":57,"y":83},{"x":62,"y":93},{"x":70,"y":93},{"x":77.3,"y":91},{"x":84.5,"y":78},{"x":90.6,"y":61},{"x":96.4,"y":37},{"x":101.4,"y":17},{"x":105,"y":5},{"x":106,"y":0}]},
     "mark": {"type": "area", "interpolate": "monotone", "stroke": "#000", "strokeWidth": 1.5, "opacity": 1,
       "fill": {"gradient": "linear", "x1": 0, "y1": 1, "x2": 1.1654, "y2": 0.7394, "stops": [
        {"offset":0,"color":"rgba(0,0,0,0)"},{"offset":0.0395,"color":"rgba(0,0,0,0)"},{"offset":0.0395,"color":"#000"},{"offset":0.0526,"color":"#000"},
        {"offset":0.0526,"color":"rgba(0,0,0,0)"},{"offset":0.0921,"color":"rgba(0,0,0,0)"},{"offset":0.0921,"color":"#000"},{"offset":0.1053,"color":"#000"},
        {"offset":0.1053,"color":"rgba(0,0,0,0)"},{"offset":0.1447,"color":"rgba(0,0,0,0)"},{"offset":0.1447,"color":"#000"},{"offset":0.1579,"color":"#000"},
        {"offset":0.1579,"color":"rgba(0,0,0,0)"},{"offset":0.1974,"color":"rgba(0,0,0,0)"},{"offset":0.1974,"color":"#000"},{"offset":0.2105,"color":"#000"},
        {"offset":0.2105,"color":"rgba(0,0,0,0)"},{"offset":0.2500,"color":"rgba(0,0,0,0)"},{"offset":0.2500,"color":"#000"},{"offset":0.2632,"color":"#000"},
        {"offset":0.2632,"color":"rgba(0,0,0,0)"},{"offset":0.3026,"color":"rgba(0,0,0,0)"},{"offset":0.3026,"color":"#000"},{"offset":0.3158,"color":"#000"},
        {"offset":0.3158,"color":"rgba(0,0,0,0)"},{"offset":0.3553,"color":"rgba(0,0,0,0)"},{"offset":0.3553,"color":"#000"},{"offset":0.3684,"color":"#000"},
        {"offset":0.3684,"color":"rgba(0,0,0,0)"},{"offset":0.4079,"color":"rgba(0,0,0,0)"},{"offset":0.4079,"color":"#000"},{"offset":0.4211,"color":"#000"},
        {"offset":0.4211,"color":"rgba(0,0,0,0)"},{"offset":0.4605,"color":"rgba(0,0,0,0)"},{"offset":0.4605,"color":"#000"},{"offset":0.4737,"color":"#000"},
        {"offset":0.4737,"color":"rgba(0,0,0,0)"},{"offset":0.5132,"color":"rgba(0,0,0,0)"},{"offset":0.5132,"color":"#000"},{"offset":0.5263,"color":"#000"},
        {"offset":0.5263,"color":"rgba(0,0,0,0)"},{"offset":0.5658,"color":"rgba(0,0,0,0)"},{"offset":0.5658,"color":"#000"},{"offset":0.5789,"color":"#000"},
        {"offset":0.5789,"color":"rgba(0,0,0,0)"},{"offset":0.6184,"color":"rgba(0,0,0,0)"},{"offset":0.6184,"color":"#000"},{"offset":0.6316,"color":"#000"},
        {"offset":0.6316,"color":"rgba(0,0,0,0)"},{"offset":0.6711,"color":"rgba(0,0,0,0)"},{"offset":0.6711,"color":"#000"},{"offset":0.6842,"color":"#000"},
        {"offset":0.6842,"color":"rgba(0,0,0,0)"},{"offset":0.7237,"color":"rgba(0,0,0,0)"},{"offset":0.7237,"color":"#000"},{"offset":0.7368,"color":"#000"},
        {"offset":0.7368,"color":"rgba(0,0,0,0)"},{"offset":0.7763,"color":"rgba(0,0,0,0)"},{"offset":0.7763,"color":"#000"},{"offset":0.7895,"color":"#000"},
        {"offset":0.7895,"color":"rgba(0,0,0,0)"},{"offset":0.8289,"color":"rgba(0,0,0,0)"},{"offset":0.8289,"color":"#000"},{"offset":0.8421,"color":"#000"},
        {"offset":0.8421,"color":"rgba(0,0,0,0)"},{"offset":0.8816,"color":"rgba(0,0,0,0)"},{"offset":0.8816,"color":"#000"},{"offset":0.8947,"color":"#000"},
        {"offset":0.8947,"color":"rgba(0,0,0,0)"},{"offset":0.9342,"color":"rgba(0,0,0,0)"},{"offset":0.9342,"color":"#000"},{"offset":0.9474,"color":"#000"},
        {"offset":0.9474,"color":"rgba(0,0,0,0)"},{"offset":0.9868,"color":"rgba(0,0,0,0)"},{"offset":0.9868,"color":"#000"},{"offset":1,"color":"#000"}]}}},
    {"data": {"values": [{"x":36,"y":0},{"x":37,"y":10},{"x":38.5,"y":40},{"x":40.5,"y":120},{"x":42.5,"y":250},{"x":44.5,"y":420},{"x":46.5,"y":580},{"x":48.3,"y":690},{"x":49.8,"y":723},{"x":51.3,"y":700},{"x":52.8,"y":610},{"x":54.5,"y":470},{"x":56,"y":330},{"x":57,"y":242},{"x":58.5,"y":180},{"x":60.4,"y":145},{"x":62.5,"y":125},{"x":65,"y":112},{"x":70,"y":98},{"x":74,"y":105},{"x":77,"y":120},{"x":82,"y":145},{"x":87,"y":184},{"x":91.7,"y":196},{"x":96.4,"y":184},{"x":100,"y":145},{"x":105,"y":78},{"x":109.7,"y":29},{"x":114.4,"y":10},{"x":118,"y":4},{"x":120,"y":0}]},
     "mark": {"type": "line", "interpolate": "monotone", "color": "#000", "strokeWidth": 1.8}},
    {"data": {"values": [{"x":38,"y":0},{"x":39.5,"y":50},{"x":41.5,"y":170},{"x":43.5,"y":330},{"x":45.5,"y":500},{"x":47.5,"y":640},{"x":49.3,"y":705},{"x":50.8,"y":690},{"x":52.5,"y":600},{"x":54.2,"y":460},{"x":56,"y":300},{"x":57.5,"y":200},{"x":59,"y":150},{"x":61,"y":125},{"x":64,"y":108},{"x":68,"y":100},{"x":74,"y":100},{"x":80,"y":112},{"x":85,"y":140},{"x":89,"y":172},{"x":93,"y":185},{"x":97,"y":175},{"x":100,"y":150},{"x":103,"y":115},{"x":106,"y":75},{"x":110,"y":35},{"x":114,"y":12},{"x":118,"y":3},{"x":120,"y":0}]},
     "mark": {"type": "line", "interpolate": "monotone", "color": "#000", "strokeWidth": 1.6}},
    {"data": {"values": [{"x":13.7,"y":5},{"x":16,"y":8},{"x":18,"y":15},{"x":20,"y":10},{"x":22,"y":18},{"x":24,"y":12},{"x":26,"y":20},{"x":28,"y":15},{"x":30,"y":22},{"x":33,"y":17},{"x":35,"y":29},{"x":37.8,"y":29},{"x":39.5,"y":60},{"x":41.5,"y":180},{"x":43.5,"y":340},{"x":45.5,"y":510},{"x":47.5,"y":650},{"x":49.3,"y":712},{"x":50.8,"y":700},{"x":52.5,"y":610},{"x":54.5,"y":470},{"x":56,"y":330},{"x":57,"y":250},{"x":58.3,"y":184},{"x":60.4,"y":127},{"x":62.2,"y":120},{"x":64,"y":110},{"x":66.5,"y":108},{"x":69,"y":110},{"x":71,"y":100},{"x":73.7,"y":103},{"x":77.3,"y":127},{"x":81,"y":135},{"x":83.5,"y":159},{"x":85.6,"y":135},{"x":87,"y":184},{"x":88.8,"y":194},{"x":90,"y":159},{"x":91,"y":196},{"x":92.8,"y":194},{"x":95.3,"y":184},{"x":97,"y":188},{"x":99,"y":159},{"x":101.4,"y":127},{"x":103.7,"y":86},{"x":106,"y":54},{"x":109.7,"y":22},{"x":113.3,"y":17},{"x":118,"y":12},{"x":120.5,"y":12},{"x":123,"y":22},{"x":124.8,"y":10},{"x":127.7,"y":2}]},
     "mark": {"type": "line", "interpolate": "linear", "color": "#000", "strokeWidth": 1.3}}
   ]
  },
  {"data": {"values": [{}]}, "mark": {"type": "rule", "color": "#000", "strokeWidth": 2},
   "encoding": {
    "x": {"datum": 0, "type": "quantitative", "scale": {"domain": [0, 150], "nice": false, "zero": false},
      "axis": {"values": [0,6,12,18,24,30,36,42,48,54,60,66,72,78,84,90,96,102,108,114,120,126,132,138,144,150], "labelExpr": "datum.value % 30 === 0 && datum.value > 0 && datum.value < 150 ? datum.label : ''", "labelFontSize": 10, "labelPadding": 2, "tickSize": 6, "title": "PI", "titleFontSize": 13, "titleX": 193, "titleY": 36, "titleAlign": "center", "titleBaseline": "alphabetic"}},
    "y": {"datum": 0, "type": "quantitative", "scale": {"domain": [0, 843], "nice": false},
      "axis": {"values": [0,40,80,120,160,200,240,280,320,360,400,440,480,520,560,600,640,680], "labelExpr": "datum.value % 200 === 0 && datum.value > 0 ? datum.label : ''", "labelFontSize": 10, "labelPadding": 30, "tickSize": 10, "domain": false, "title": "counts", "titleFontSize": 14, "titleAngle": 0, "titleAlign": "left", "titleBaseline": "alphabetic", "titleX": -60, "titleY": 32}},
    "y2": {"datum": 684}}},
  {"data": {"values": [{}]}, "mark": {"type": "text", "text": "D", "align": "left", "baseline": "alphabetic", "fontSize": 24},
   "encoding": {
    "x": {"datum": 4.7, "type": "quantitative", "scale": {"domain": [0, 150], "nice": false, "zero": false},
      "axis": {"values": [0,6,12,18,24,30,36,42,48,54,60,66,72,78,84,90,96,102,108,114,120,126,132,138,144,150], "labelExpr": "datum.value % 30 === 0 && datum.value > 0 && datum.value < 150 ? datum.label : ''", "labelFontSize": 10, "labelPadding": 2, "tickSize": 6, "title": "PI", "titleFontSize": 13, "titleX": 193, "titleY": 36, "titleAlign": "center", "titleBaseline": "alphabetic"}},
    "y": {"datum": 561, "type": "quantitative", "scale": {"domain": [0, 843], "nice": false},
      "axis": {"values": [0,40,80,120,160,200,240,280,320,360,400,440,480,520,560,600,640,680], "labelExpr": "datum.value % 200 === 0 && datum.value > 0 ? datum.label : ''", "labelFontSize": 10, "labelPadding": 30, "tickSize": 10, "domain": false, "title": "counts", "titleFontSize": 14, "titleAngle": 0, "titleAlign": "left", "titleBaseline": "alphabetic", "titleX": -60, "titleY": 32}}}},
  {"data": {"values": [{}]}, "mark": {"type": "text", "text": "Apo:0.42%", "align": "center", "baseline": "alphabetic", "fontSize": 20},
   "encoding": {
    "x": {"datum": 97, "type": "quantitative", "scale": {"domain": [0, 150], "nice": false, "zero": false},
      "axis": {"values": [0,6,12,18,24,30,36,42,48,54,60,66,72,78,84,90,96,102,108,114,120,126,132,138,144,150], "labelExpr": "datum.value % 30 === 0 && datum.value > 0 && datum.value < 150 ? datum.label : ''", "labelFontSize": 10, "labelPadding": 2, "tickSize": 6, "title": "PI", "titleFontSize": 13, "titleX": 193, "titleY": 36, "titleAlign": "center", "titleBaseline": "alphabetic"}},
    "y": {"datum": 622, "type": "quantitative", "scale": {"domain": [0, 843], "nice": false},
      "axis": {"values": [0,40,80,120,160,200,240,280,320,360,400,440,480,520,560,600,640,680], "labelExpr": "datum.value % 200 === 0 && datum.value > 0 ? datum.label : ''", "labelFontSize": 10, "labelPadding": 30, "tickSize": 10, "domain": false, "title": "counts", "titleFontSize": 14, "titleAngle": 0, "titleAlign": "left", "titleBaseline": "alphabetic", "titleX": -60, "titleY": 32}}}}
  ]
 }
 ],
 "bounds": "flush",
 "spacing": 120
}
]
}
